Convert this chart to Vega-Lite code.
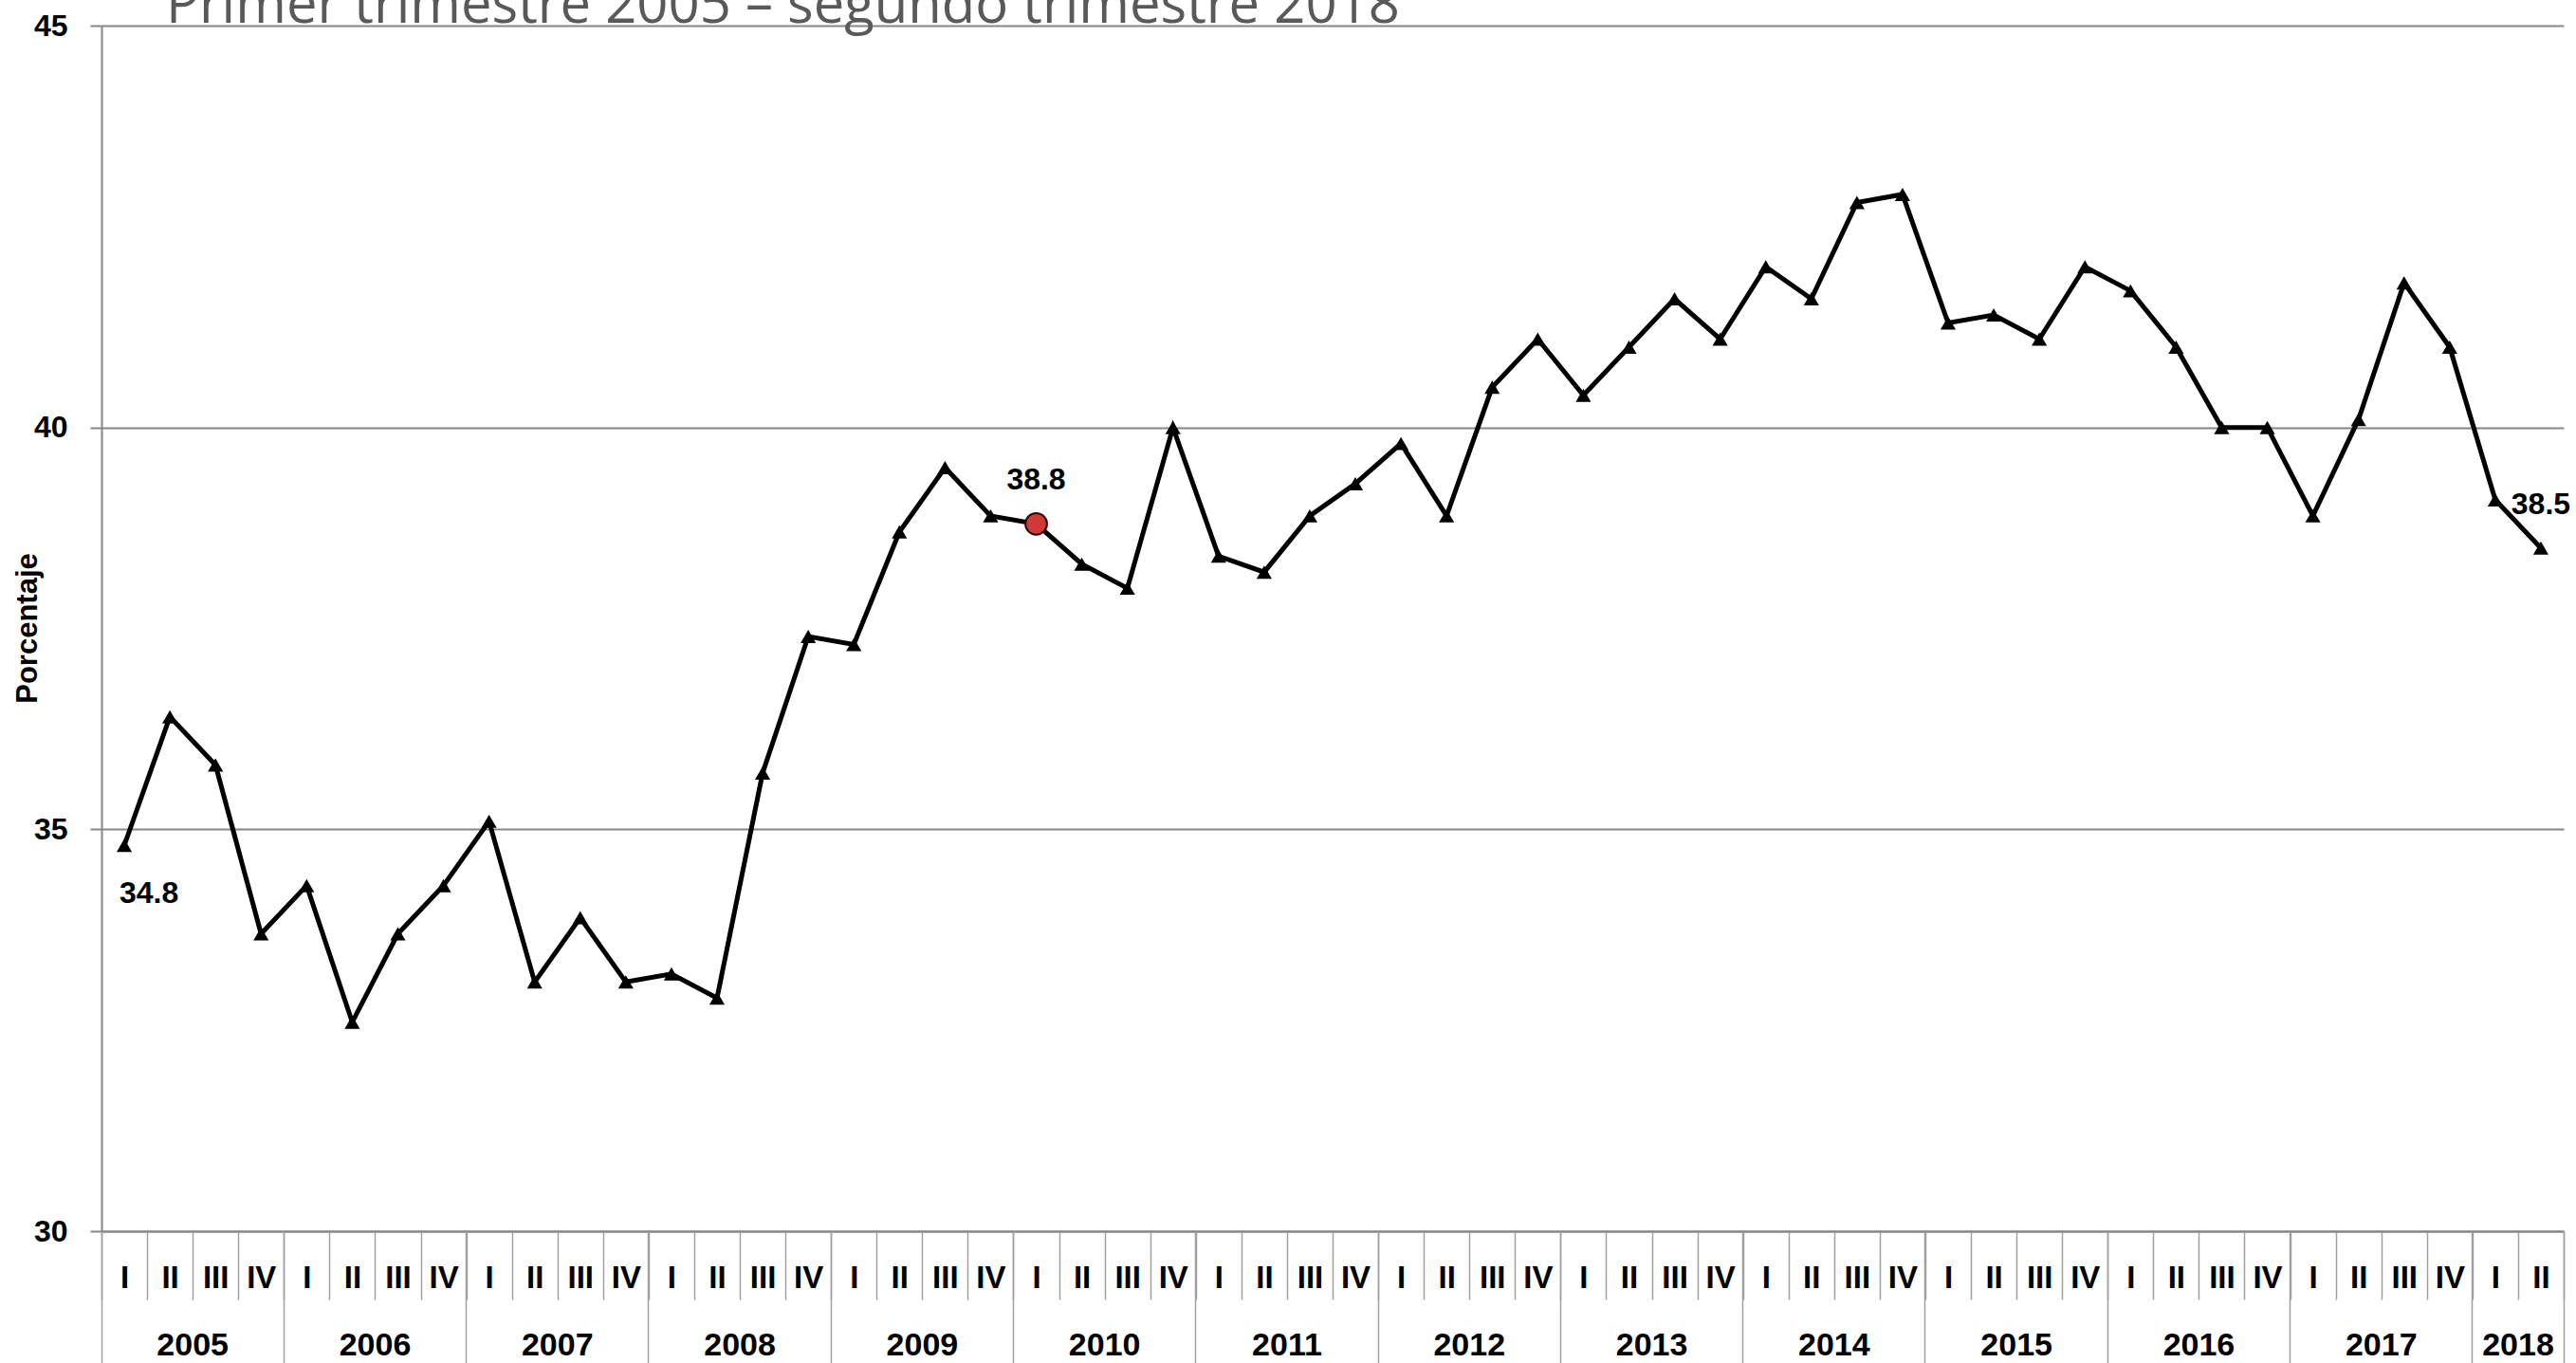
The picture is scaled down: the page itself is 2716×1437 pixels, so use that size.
{
  "$schema": "https://vega.github.io/schema/vega-lite/v6.json",
  "width": 2596,
  "height": 1271,
  "autosize": "none",
  "padding": {"left": 107, "top": 27, "right": 13, "bottom": 139},
  "background": "white",
  "config": {"view": {"stroke": null}, "font": "Liberation Sans"},
  "title": {
    "text": "Primer trimestre 2005 – segundo trimestre 2018",
    "anchor": "start",
    "frame": "group",
    "font": "Open Sans",
    "fontSize": 58,
    "fontWeight": "normal",
    "color": "#595959",
    "baseline": "alphabetic",
    "offset": 4,
    "dx": 68,
    "dy": 75
  },
  "data": {
    "values": [
      {"q": "2005-I", "v": 34.8}, {"q": "2005-II", "v": 36.4}, {"q": "2005-III", "v": 35.8}, {"q": "2005-IV", "v": 33.7},
      {"q": "2006-I", "v": 34.3}, {"q": "2006-II", "v": 32.6}, {"q": "2006-III", "v": 33.7}, {"q": "2006-IV", "v": 34.3},
      {"q": "2007-I", "v": 35.1}, {"q": "2007-II", "v": 33.1}, {"q": "2007-III", "v": 33.9}, {"q": "2007-IV", "v": 33.1},
      {"q": "2008-I", "v": 33.2}, {"q": "2008-II", "v": 32.9}, {"q": "2008-III", "v": 35.7}, {"q": "2008-IV", "v": 37.4},
      {"q": "2009-I", "v": 37.3}, {"q": "2009-II", "v": 38.7}, {"q": "2009-III", "v": 39.5}, {"q": "2009-IV", "v": 38.9},
      {"q": "2010-I", "v": 38.8}, {"q": "2010-II", "v": 38.3}, {"q": "2010-III", "v": 38.0}, {"q": "2010-IV", "v": 40.0},
      {"q": "2011-I", "v": 38.4}, {"q": "2011-II", "v": 38.2}, {"q": "2011-III", "v": 38.9}, {"q": "2011-IV", "v": 39.3},
      {"q": "2012-I", "v": 39.8}, {"q": "2012-II", "v": 38.9}, {"q": "2012-III", "v": 40.5}, {"q": "2012-IV", "v": 41.1},
      {"q": "2013-I", "v": 40.4}, {"q": "2013-II", "v": 41.0}, {"q": "2013-III", "v": 41.6}, {"q": "2013-IV", "v": 41.1},
      {"q": "2014-I", "v": 42.0}, {"q": "2014-II", "v": 41.6}, {"q": "2014-III", "v": 42.8}, {"q": "2014-IV", "v": 42.9},
      {"q": "2015-I", "v": 41.3}, {"q": "2015-II", "v": 41.4}, {"q": "2015-III", "v": 41.1}, {"q": "2015-IV", "v": 42.0},
      {"q": "2016-I", "v": 41.7}, {"q": "2016-II", "v": 41.0}, {"q": "2016-III", "v": 40.0}, {"q": "2016-IV", "v": 40.0},
      {"q": "2017-I", "v": 38.9}, {"q": "2017-II", "v": 40.1}, {"q": "2017-III", "v": 41.8}, {"q": "2017-IV", "v": 41.0},
      {"q": "2018-I", "v": 39.1}, {"q": "2018-II", "v": 38.5}
    ]
  },
  "encoding": {
    "y": {
      "field": "v",
      "type": "quantitative",
      "scale": {"domain": [30, 45], "nice": false, "zero": false},
      "axis": {
        "title": "Porcentaje",
        "values": [30, 35, 40, 45],
        "grid": true,
        "gridColor": "#868686",
        "gridWidth": 2,
        "domainColor": "#868686",
        "domainWidth": 2,
        "tickColor": "#868686",
        "tickSize": 12,
        "tickWidth": 2,
        "labelFont": "Liberation Sans",
        "labelFontWeight": "bold",
        "labelFontSize": 32,
        "labelColor": "black",
        "labelPadding": 24,
        "labelBaseline": "middle",
        "titleFont": "Liberation Sans",
        "titleFontWeight": "bold",
        "titleFontSize": 31,
        "titleColor": "black",
        "titleAngle": -90,
        "titleAlign": "center",
        "titleBaseline": "middle",
        "titleX": -78,
        "titleY": 635
      }
    }
  },
  "layer": [
    {
      "mark": {
        "type": "line",
        "color": "black",
        "strokeWidth": 5,
        "point": {"shape": "triangle-up", "filled": true, "color": "black", "size": 260, "opacity": 1}
      },
      "encoding": {
        "x": {
          "field": "q",
          "type": "ordinal",
          "scale": {"type": "band", "paddingInner": 0, "paddingOuter": 0},
          "axis": {
            "title": null,
            "orient": "bottom",
            "labelExpr": "split(datum.value, '-')[1]",
            "tickBand": "extent",
            "tickSize": 72,
            "tickColor": "#a0a0a0",
            "tickWidth": 1.5,
            "domain": true,
            "domainColor": "#868686",
            "domainWidth": 2,
            "labelFont": "Liberation Sans",
            "labelFontWeight": "bold",
            "labelFontSize": 33,
            "labelColor": "black",
            "labelBaseline": "middle",
            "labelPadding": -23,
            "labelAngle": 0,
            "labelOverlap": false,
            "grid": false
          }
        }
      }
    },
    {
      "transform": [{"filter": "datum.q === '2010-I'"}],
      "mark": {"type": "point", "shape": "circle", "filled": true, "color": "#d03a36", "stroke": "#2a0808", "strokeWidth": 2, "size": 520, "opacity": 1},
      "encoding": {
        "x": {
          "field": "q",
          "type": "ordinal",
          "scale": {"type": "band", "paddingInner": 0, "paddingOuter": 0},
          "axis": {
            "title": null,
            "orient": "bottom",
            "values": ["2005-III", "2006-III", "2007-III", "2008-III", "2009-III", "2010-III", "2011-III", "2012-III", "2013-III", "2014-III", "2015-III", "2016-III", "2017-III", "2018-II"],
            "ticks": false,
            "tickSize": 0,
            "domain": false,
            "labelExpr": "slice(datum.value, 0, 4)",
            "labelOffset": -24,
            "labelFont": "Liberation Sans",
            "labelFontWeight": "bold",
            "labelFontSize": 34,
            "labelColor": "black",
            "labelBaseline": "middle",
            "labelPadding": 120,
            "labelAngle": 0,
            "labelOverlap": false,
            "grid": false
          }
        }
      }
    },
    {
      "transform": [{"filter": "datum.q === '2005-I'"}],
      "mark": {"type": "text", "font": "Liberation Sans", "fontWeight": "bold", "fontSize": 32, "color": "black", "align": "center", "baseline": "middle", "dx": 26, "dy": 51},
      "encoding": {
        "x": {
          "field": "q",
          "type": "ordinal",
          "scale": {"type": "band", "paddingInner": 0, "paddingOuter": 0},
          "axis": {
            "title": null,
            "orient": "bottom",
            "values": ["2005-IV", "2006-IV", "2007-IV", "2008-IV", "2009-IV", "2010-IV", "2011-IV", "2012-IV", "2013-IV", "2014-IV", "2015-IV", "2016-IV", "2017-IV", "2018-II"],
            "bandPosition": 1,
            "labels": false,
            "domain": false,
            "tickSize": 139,
            "tickColor": "#a0a0a0",
            "tickWidth": 1.5,
            "grid": false
          }
        },
        "text": {"field": "v", "type": "quantitative", "format": ".1f"}
      }
    },
    {
      "transform": [{"filter": "datum.q === '2010-I' || datum.q === '2018-II'"}],
      "mark": {"type": "text", "font": "Liberation Sans", "fontWeight": "bold", "fontSize": 32, "color": "black", "align": "center", "baseline": "middle", "dy": -46},
      "encoding": {
        "x": {
          "field": "q",
          "type": "ordinal",
          "scale": {"type": "band", "paddingInner": 0, "paddingOuter": 0},
          "axis": {
            "title": null,
            "orient": "bottom",
            "values": ["2005-I"],
            "bandPosition": 0,
            "labels": false,
            "domain": false,
            "tickSize": 139,
            "tickColor": "#a0a0a0",
            "tickWidth": 1.5,
            "grid": false
          }
        },
        "text": {"field": "v", "type": "quantitative", "format": ".1f"}
      }
    }
  ],
  "resolve": {"axis": {"x": "independent"}}
}
